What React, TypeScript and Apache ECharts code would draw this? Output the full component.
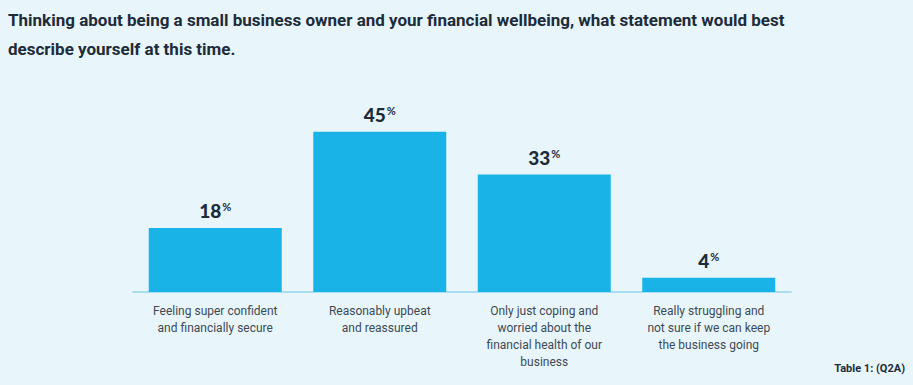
import React, { useEffect, useRef } from "react";
import * as echarts from "echarts";

const TITLE_LINES = [
  "Thinking about being a small business owner and your financial wellbeing, what statement would best",
  "describe yourself at this time.",
];
const CATEGORIES = [
  "Feeling super confident\nand financially secure",
  "Reasonably upbeat\nand reassured",
  "Only just coping and\nworried about the\nfinancial health of our\nbusiness",
  "Really struggling and\nnot sure if we can keep\nthe business going",
];
const VALUES = [18, 45, 33, 4];
const FOOTNOTE = "Table 1: (Q2A)";

export default function App() {
  const ref = useRef<HTMLDivElement>(null);
  useEffect(() => {
    document.body.style.margin = "0";
    if (!ref.current) return;
    const chart = echarts.init(ref.current, null, { renderer: "svg" });
    chart.setOption({
      animation: false,
      backgroundColor: "#e8f6fc",
      graphic: [
        ...TITLE_LINES.map((t, i) => ({
          type: "text",
          left: 8,
          top: 11 + i * 29,
          style: {
            text: t,
            font: "700 17px Roboto",
            fill: "#1d2b3a",
          },
        })),
        {
          type: "text",
          right: 8,
          top: 363,
          style: {
            text: FOOTNOTE,
            font: "700 11px Roboto",
            fill: "#1d2b3a",
          },
        },
      ],
      grid: { left: 133, right: 122, top: 114, bottom: 93 },
      xAxis: {
        type: "category",
        data: CATEGORIES,
        axisLine: { show: true, lineStyle: { color: "#a9def2", width: 2 } },
        axisTick: { show: false },
        axisLabel: {
          interval: 0,
          color: "#3d4a55",
          fontFamily: "Roboto",
          fontSize: 12,
          lineHeight: 17,
          margin: 10,
        },
      },
      yAxis: {
        type: "value",
        min: 0,
        max: 50,
        show: false,
        splitLine: { show: false },
      },
      series: [
        {
          type: "bar",
          data: VALUES,
          barWidth: 133,
          itemStyle: { color: "#1ab3e8" },
          label: {
            show: true,
            position: "top",
            distance: 8,
            formatter: (p: any) => `{v|${p.value}}{p|%}`,
            rich: {
              v: {
                fontFamily: "Lato",
                fontWeight: 900,
                fontSize: 19,
                color: "#1d2b3a",
              },
              p: {
                fontFamily: "Lato",
                fontWeight: 700,
                fontSize: 11,
                color: "#1d2b3a",
                padding: [0, 0, 7, 1],
              },
            },
          },
        },
      ],
    });
    return () => chart.dispose();
  }, []);
  return <div ref={ref} style={{ width: 913, height: 385 }} />;
}
